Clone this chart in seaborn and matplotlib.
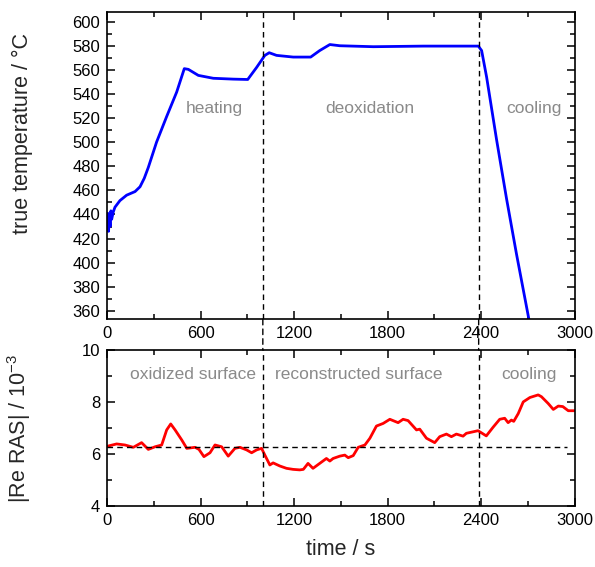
import numpy as np
import pandas as pd
import matplotlib
matplotlib.use("Agg")
import matplotlib.pyplot as plt
from matplotlib.ticker import MultipleLocator
from matplotlib.patches import ConnectionPatch
import seaborn as sns

# ---------------- data ----------------
temp_time = [0, 5, 10, 15, 20, 25, 30, 40, 51, 83, 126, 180, 212, 239, 265, 318, 382, 447,
             496, 522, 586, 682, 810, 903, 960, 1013, 1041, 1088, 1195, 1307, 1365,
             1430, 1494, 1709, 2030, 2383, 2404, 2436, 2500, 2564, 2628, 2703, 2720]
temp_val = [433, 441, 426, 440, 430, 443, 436, 442, 446, 451.5, 456, 459, 463, 470, 479, 500,
            521, 541.5, 561, 560.4, 555.4, 553, 552.3, 552, 562, 572, 574.2, 572, 570.6,
            570.6, 576, 581, 580, 579.2, 579.7, 579.7, 576, 554, 502, 453, 407, 356, 344]

ras_time = [0, 8, 62, 115, 169, 222, 265, 308, 351, 383, 409, 437, 480, 512, 565, 590,
            622, 661, 693, 736, 778, 821, 853, 896, 928, 960, 992, 1013, 1045, 1066,
            1109, 1152, 1194, 1237, 1260, 1290, 1322, 1365, 1408, 1430, 1451, 1494,
            1526, 1548, 1580, 1612, 1655, 1687, 1729, 1772, 1815, 1868, 1900, 1932,
            1986, 2007, 2050, 2103, 2135, 2178, 2210, 2242, 2285, 2306, 2381, 2434,
            2477, 2520, 2552, 2574, 2595, 2610, 2639, 2671, 2714, 2767, 2788, 2831,
            2864, 2896, 2925, 2960, 3000]
ras_val = [6.28, 6.30, 6.38, 6.34, 6.25, 6.43, 6.17, 6.27, 6.34, 6.92, 7.15, 6.92, 6.53,
           6.21, 6.25, 6.17, 5.89, 6.04, 6.34, 6.27, 5.91, 6.21, 6.25, 6.15, 6.04, 6.15,
           6.21, 5.95, 5.57, 5.65, 5.53, 5.44, 5.40, 5.38, 5.40, 5.63, 5.44, 5.63, 5.82,
           5.72, 5.82, 5.91, 5.95, 5.85, 5.93, 6.25, 6.34, 6.60, 7.07, 7.17, 7.33, 7.20,
           7.33, 7.28, 6.92, 6.95, 6.60, 6.43, 6.66, 6.76, 6.66, 6.76, 6.68, 6.79, 6.89,
           6.69, 7.02, 7.33, 7.37, 7.20, 7.30, 7.25, 7.55, 8.00, 8.17, 8.27, 8.20, 7.94,
           7.71, 7.84, 7.82, 7.66, 7.66]

baseline_ras = 6.28
baseline_end = 2950
phase_bounds = [1000, 2385]

temp_labels = ["heating", "deoxidation", "cooling"]
temp_label_x = [690, 1688, 2740]
temp_label_y = 528
ras_labels = ["oxidized surface", "reconstructed surface", "cooling"]
ras_label_x = [550, 1617, 2708]
ras_label_y = 9.04

df_t = pd.DataFrame({"time": temp_time, "temp": temp_val})
df_r = pd.DataFrame({"time": ras_time, "ras": ras_val})

# ---------------- style ----------------
sns.set_theme(style="ticks")
plt.rcParams["font.family"] = ["Liberation Sans", "DejaVu Sans"]
plt.rcParams["mathtext.default"] = "regular"
plt.rcParams["axes.linewidth"] = 1.2

fig = plt.figure(figsize=(5.95, 5.67), dpi=100)
W, H = 595, 567
ax1 = fig.add_axes([107 / W, 1 - 319.3 / H, 467.5 / W, 307.3 / H])
ax2 = fig.add_axes([107 / W, 1 - 505.7 / H, 467.5 / W, 155.7 / H])

sns.lineplot(data=df_t, x="time", y="temp", ax=ax1, color="#0000ff", lw=2.0, sort=False)
sns.lineplot(data=df_r, x="time", y="ras", ax=ax2, color="#ff0000", lw=2.0, sort=False)

ax1.set_xlim(0, 3000)
ax1.set_ylim(353, 608)
ax2.set_xlim(0, 3000)
ax2.set_ylim(4, 10)

ax1.yaxis.set_major_locator(MultipleLocator(20))
ax1.yaxis.set_minor_locator(MultipleLocator(10))
ax2.yaxis.set_major_locator(MultipleLocator(2))
ax2.yaxis.set_minor_locator(MultipleLocator(1))
for ax in (ax1, ax2):
    ax.xaxis.set_major_locator(MultipleLocator(600))
    ax.xaxis.set_minor_locator(MultipleLocator(300))
    ax.tick_params(which="both", direction="in", top=True, right=True,
                   labelsize=12, colors="black", pad=5)
    ax.tick_params(which="major", length=6, width=1.1)
    ax.tick_params(which="minor", length=3.5, width=1.1)
    for s in ax.spines.values():
        s.set_color("black")
        s.set_linewidth(1.2)

ax1.set_xlabel("")
ax1.set_ylabel("true temperature / °C", fontsize=15.5)
ax1.yaxis.set_label_coords(-0.158, 0.606)
ax2.set_ylabel("|Re RAS| / 10$^{-3}$", fontsize=15.5)
ax2.yaxis.set_label_coords(-0.158, 0.5)
ax2.set_xlabel("time / s", fontsize=15.5, labelpad=8)

# baseline in lower panel
ax2.plot([0, baseline_end], [baseline_ras, baseline_ras], color="black", lw=1.0,
         dashes=(4, 3))

# phase boundaries spanning both panels
for xb in phase_bounds:
    ax1.axvline(xb, color="black", lw=1.0, dashes=(4, 3))
    ax2.axvline(xb, color="black", lw=1.0, dashes=(4, 3))
    cp = ConnectionPatch(xyA=(xb, 0), coordsA=ax1.get_xaxis_transform(),
                         xyB=(xb, 1), coordsB=ax2.get_xaxis_transform(),
                         color="black", lw=1.0, linestyle=(0, (4, 3)))
    fig.add_artist(cp)

grey = "#8a8a8a"
for lab, xx in zip(temp_labels, temp_label_x):
    ax1.text(xx, temp_label_y, lab, color=grey, fontsize=12.5, ha="center", va="center")
for lab, xx in zip(ras_labels, ras_label_x):
    ax2.text(xx, ras_label_y, lab, color=grey, fontsize=12.5, ha="center", va="center")

fig.savefig("out.png", dpi=100)
